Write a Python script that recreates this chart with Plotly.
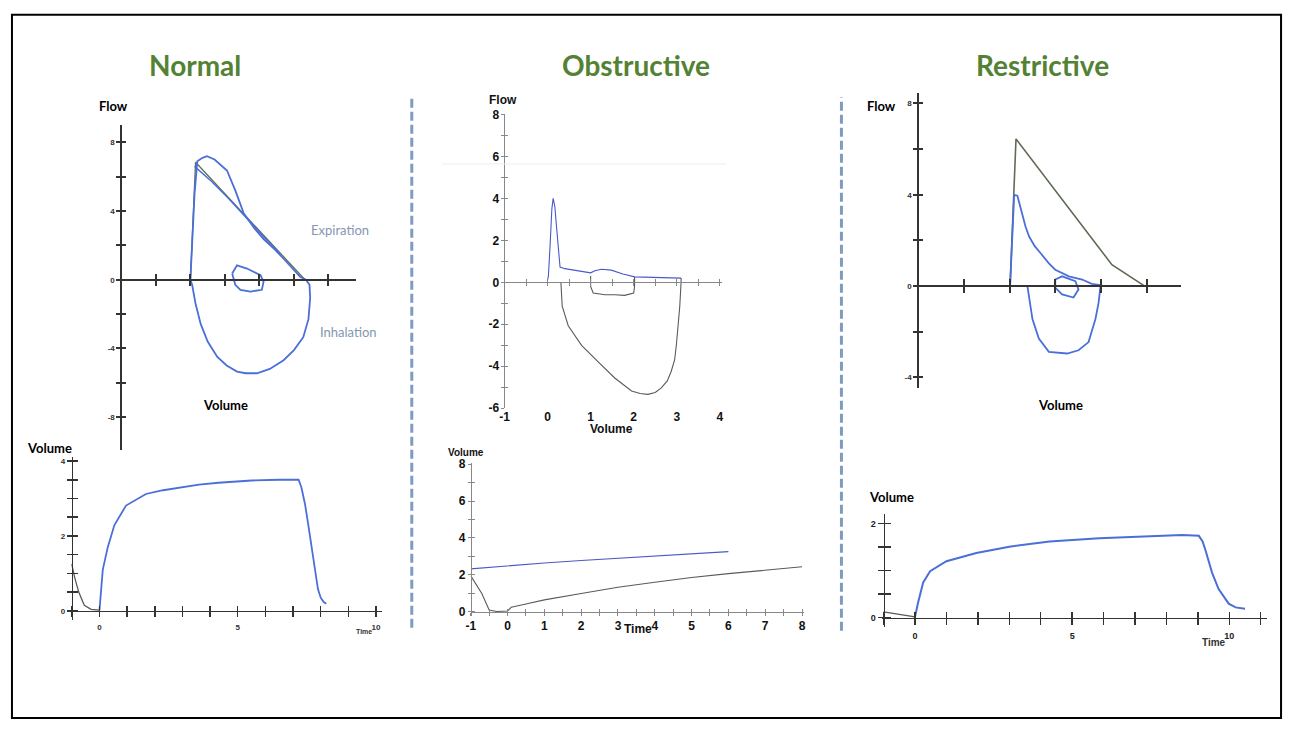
import plotly.graph_objects as go

W, H = 1291, 729

# ---------------- data ----------------
# Normal: flow-volume
normal_exp_vol = [2.0, 2.05, 2.12, 2.2, 2.35, 2.48, 2.7, 3.06, 3.3, 3.54, 3.85, 4.12, 4.45, 4.7, 5.0, 5.18, 5.35]
normal_exp_flow = [0.0, 2.0, 5.0, 6.9, 7.1, 7.2, 7.0, 6.36, 5.2, 3.89, 3.0, 2.36, 1.75, 1.22, 0.6, 0.17, 0.0]
normal_exp2_vol = [2.12, 2.6, 3.1, 3.55, 4.1, 4.6]
normal_exp2_flow = [6.6, 5.75, 4.75, 3.75, 2.55, 1.5]
normal_ref_vol = [2.0, 2.15, 5.32]
normal_ref_flow = [0.0, 6.84, 0.0]
normal_insp_vol = [5.35, 5.45, 5.47, 5.42, 5.27, 5.0, 4.7, 4.3, 3.93, 3.6, 3.35, 3.05, 2.78, 2.5, 2.3, 2.15, 2.05, 2.0]
normal_insp_flow = [0.0, -0.3, -1.07, -2.3, -3.35, -4.1, -4.69, -5.2, -5.45, -5.45, -5.35, -5.0, -4.5, -3.6, -2.59, -1.4, -0.3, 0.0]
normal_tidal_vol = [3.21, 3.35, 3.64, 4.03, 4.12, 4.07, 3.74, 3.45, 3.3, 3.21]
normal_tidal_flow = [0.36, 0.84, 0.65, 0.27, -0.11, -0.59, -0.69, -0.59, -0.3, 0.36]

# Normal: volume-time
normal_pre_t = [-1.0, -0.9, -0.75, -0.55, -0.3, 0.0]
normal_pre_v = [1.25, 0.9, 0.5, 0.15, 0.04, 0.02]
normal_vt_t = [0.0, 0.05, 0.12, 0.3, 0.54, 0.96, 1.4, 1.68, 2.3, 3.0, 3.6, 4.3, 5.5, 6.5, 7.2,
               7.3, 7.43, 7.55, 7.67, 7.8, 7.9, 8.0, 8.1, 8.2]
normal_vt_v = [0.02, 0.5, 1.1, 1.7, 2.29, 2.81, 3.0, 3.12, 3.22, 3.31, 3.37, 3.42, 3.48, 3.5, 3.5,
               3.3, 2.86, 2.3, 1.72, 1.1, 0.58, 0.35, 0.24, 0.19]

# Obstructive: flow-volume
obst_exp_vol = [0.0, 0.02, 0.06, 0.1, 0.13, 0.17, 0.21, 0.25, 0.29, 0.4, 0.55, 0.79, 1.0, 1.1, 1.25, 1.48,
                1.75, 2.02, 2.56, 3.1]
obst_exp_flow = [0.1, 0.3, 1.8, 3.5, 4.0, 3.6, 2.6, 1.5, 0.73, 0.65, 0.6, 0.5, 0.45, 0.55, 0.62, 0.58,
                 0.4, 0.26, 0.22, 0.2]
obst_tidal_vol = [1.0, 1.0, 1.06, 1.33, 1.56, 1.79, 2.0, 2.02, 2.02]
obst_tidal_flow = [0.3, -0.2, -0.51, -0.59, -0.59, -0.62, -0.51, -0.2, 0.26]
obst_insp_vol = [0.31, 0.34, 0.48, 0.79, 1.17, 1.56, 1.95, 2.15, 2.33, 2.5, 2.64, 2.78, 2.87, 2.95, 2.99,
                 3.04, 3.07, 3.1, 3.1]
obst_insp_flow = [0.0, -1.14, -2.07, -3.0, -3.78, -4.56, -5.18, -5.3, -5.34, -5.25, -5.03, -4.7, -4.25,
                  -3.7, -3.0, -2.0, -1.14, 0.0, 0.2]

# Obstructive: volume-time
obst_ref_t = [-1, 0, 1, 2, 3, 4, 5, 6]
obst_ref_v = [2.33, 2.5, 2.65, 2.78, 2.9, 3.03, 3.15, 3.26]
obst_vt_t = [-1.0, -0.85, -0.7, -0.5, -0.3, 0.0, 0.1, 0.5, 1.0, 2.0, 3.0, 4.0, 5.0, 6.0, 7.0, 8.0]
obst_vt_v = [1.95, 1.45, 1.0, 0.1, 0.02, 0.05, 0.25, 0.43, 0.65, 1.0, 1.33, 1.6, 1.86, 2.07, 2.27, 2.44]

# Restrictive: flow-volume
restr_ref_vol = [2.01, 2.14, 4.24, 4.96]
restr_ref_flow = [0.0, 6.45, 0.94, 0.0]
restr_exp_vol = [2.01, 2.05, 2.1, 2.17, 2.28, 2.35, 2.43, 2.55, 2.68, 2.86, 3.0, 3.3, 3.59, 3.8, 3.99]
restr_exp_flow = [0.0, 2.0, 4.0, 3.96, 3.17, 2.6, 2.16, 1.75, 1.44, 1.0, 0.72, 0.43, 0.29, 0.1, 0.04]
restr_tidal_vol = [3.0, 3.15, 3.44, 3.51, 3.4, 3.15, 3.0, 3.0]
restr_tidal_flow = [0.29, 0.43, 0.22, -0.14, -0.5, -0.36, -0.07, 0.29]
restr_insp_vol = [3.99, 3.95, 3.88, 3.73, 3.51, 3.26, 2.86, 2.64, 2.5, 2.43, 2.39]
restr_insp_flow = [0.0, -0.72, -1.44, -2.45, -2.81, -2.95, -2.88, -2.3, -1.44, -0.58, 0.0]

# Restrictive: volume-time
restr_pre_t = [-1.0, -0.5, 0.0]
restr_pre_v = [0.125, 0.07, 0.02]
restr_vt_t = [0.0, 0.1, 0.26, 0.48, 1.0, 1.95, 3.0, 4.28, 5.86, 7.44, 8.5, 9.03, 9.15, 9.24, 9.45, 9.66,
              9.98, 10.2, 10.5]
restr_vt_v = [0.02, 0.33, 0.75, 0.99, 1.2, 1.375, 1.51, 1.62, 1.69, 1.74, 1.76, 1.74, 1.62, 1.44, 0.96,
              0.61, 0.3, 0.22, 0.19]

titles = ["Normal", "Obstructive", "Restrictive"]

# ---------------- styling ----------------
BLUE = "#4b6fd8"
BLUE_THIN = "#4a58c8"
GRAY = "#5a5a5a"
GREENGRAY = "#5f6b55"
DARK = "#333333"
TITLE_GREEN = "#548235"
CAL = "Lato, Carlito, Calibri, sans-serif"
ARIAL = "Arial, Liberation Sans, sans-serif"

fig = go.Figure()
lay = dict(autosize=True, margin=dict(l=0, r=0, t=0, b=0), paper_bgcolor="white",
           plot_bgcolor="rgba(0,0,0,0)", showlegend=False)

counter = {"x": 0, "y": 0}


def axname(letter, n):
    return f"{letter}axis{'' if n == 1 else n}"


def axref(letter, n):
    return f"{letter}{'' if n == 1 else n}"


# panel geometry: (x range, y range, left px, right px, top px, bottom px)
panel_geo = [
    ([0, 6.8], [-9.94, 9.03], 117, 353, 120, 452),
    ([-1.1, 10.2], [-0.25, 4.1], 64.4, 378.6, 459.1, 625.2),
    ([-1, 4.05], [-6, 8], 502.2, 720.9, 109.5, 409.1),
    ([-1, 8.05], [-0.2, 8.05], 468.3, 803.2, 465.1, 620.5),
    ([0, 5.75], [-4.45, 8.45], 918.3, 1182.2, 87.9, 388.2),
    ([-1.05, 11.2], [-0.2, 2.2], 881.8, 1268.9, 517.1, 632.3),
]
panels = []
base_ax = dict(showgrid=False, zeroline=False, showline=False, ticks="", showticklabels=False,
               fixedrange=True)
for xr, yr, pl, pr, pt, pb in panel_geo:
    counter["x"] += 1
    counter["y"] += 1
    nx, ny = counter["x"], counter["y"]
    dx = [pl / W, pr / W]
    dy = [1 - pb / H, 1 - pt / H]
    lay[axname("x", nx)] = dict(base_ax, domain=dx, range=xr, anchor=axref("y", ny))
    lay[axname("y", ny)] = dict(base_ax, domain=dy, range=yr, anchor=axref("x", nx))
    panels.append(dict(nx=nx, ny=ny, xr=xr, yr=yr, dx=dx, dy=dy))

overlay_pairs = []


def line_axis(letter, p, at, tickvals, ticktext=None, color=DARK, width=1.5, ticklen=4,
              font=None, standoff=None):
    if letter == "x":
        rng, dom, other_rng = p["xr"], p["dy"], p["yr"]
        base = axref("x", p["nx"])
    else:
        rng, dom, other_rng = p["yr"], p["dx"], p["xr"]
        base = axref("y", p["ny"])
    pos = dom[0] + (at - other_rng[0]) / (other_rng[1] - other_rng[0]) * (dom[1] - dom[0])
    for ticks in ("outside", "inside"):
        counter[letter] += 1
        n = counter[letter]
        d = dict(overlaying=base, anchor="free", position=pos, range=rng, showline=True,
                 linecolor=color, linewidth=width, ticks=ticks, tickvals=tickvals, ticklen=ticklen,
                 tickcolor=color, tickwidth=width, showgrid=False, zeroline=False, fixedrange=True,
                 showticklabels=False)
        if ticks == "outside" and ticktext is not None:
            d.update(ticktext=ticktext, showticklabels=True, tickfont=font or {})
            if standoff is not None:
                d["ticklabelstandoff"] = standoff
        lay[axname(letter, n)] = d
        if letter == "x":
            overlay_pairs.append((axref("x", n), axref("y", p["ny"])))
        else:
            overlay_pairs.append((axref("x", p["nx"]), axref("y", n)))


def lbl(vals, shown):
    return [(("%g" % v) if v in shown else "") for v in vals]


tiny = dict(family=ARIAL, size=8, color="#333333", weight="bold")
small = dict(family=ARIAL, size=9, color="#222222", weight="bold")
arialb = dict(family=ARIAL, size=12, color="#111111", weight="bold")

# Panel 1
p = panels[0]
line_axis("x", p, 0, list(range(0, 7)), color=DARK, width=2, ticklen=5)
yv = [-8, -6, -4, -2, 0, 2, 4, 6, 8]
line_axis("y", p, 0, yv, lbl(yv, [-8, -4, 0, 4, 8]), color=DARK, width=2, ticklen=4, font=tiny)
# Panel 2
p = panels[1]
xv = list(range(-1, 11))
line_axis("x", p, 0, xv, lbl(xv, [0, 5, 10]), color=DARK, width=1.5, ticklen=5, font=tiny, standoff=3)
yv = [i * 0.5 for i in range(9)]
line_axis("y", p, -1, yv, lbl(yv, [0, 2, 4]), color=DARK, width=1.5, ticklen=5, font=tiny)
# Panel 3
p = panels[2]
xl = [-1, 0, 1, 2, 3, 4]
lay[axname("x", p["nx"])].update(showticklabels=True, tickvals=xl, ticktext=["%g" % v for v in xl],
                                 tickfont=arialb)
xv = [i * 0.5 - 1 for i in range(11)]
line_axis("x", p, 0, xv, color="#888888", width=1, ticklen=3)
yv = list(range(-6, 9))
line_axis("y", p, -1, yv, lbl(yv, [-6, -4, -2, 0, 2, 4, 6, 8]), color="#888888", width=1, ticklen=3,
          font=arialb)
# Panel 4
p = panels[3]
xv = [i * 0.5 - 1 for i in range(19)]
line_axis("x", p, 0, xv, lbl(xv, list(range(-1, 9))), color="#888888", width=1, ticklen=3, font=arialb)
yv = list(range(0, 9))
line_axis("y", p, -1, yv, lbl(yv, [0, 2, 4, 6, 8]), color="#888888", width=1, ticklen=3, font=arialb)
# Panel 5
p = panels[4]
line_axis("x", p, 0, list(range(0, 6)), color=DARK, width=2, ticklen=6)
yv = [-4, -2, 0, 2, 4, 6, 8]
line_axis("y", p, 0, yv, lbl(yv, [-4, 0, 4, 8]), color=DARK, width=2, ticklen=4, font=tiny)
# Panel 6
p = panels[5]
xv = list(range(-1, 12))
line_axis("x", p, 0, xv, lbl(xv, [0, 5, 10]), color=DARK, width=1.5, ticklen=6, font=small, standoff=3)
yv = [i * 0.5 for i in range(5)]
line_axis("y", p, -1, yv, lbl(yv, [0, 2]), color=DARK, width=1.5, ticklen=6, font=small)

# empty traces so that every overlay axis gets drawn
for xa, ya in overlay_pairs:
    fig.add_trace(go.Scatter(x=[], y=[], mode="lines", xaxis=xa, yaxis=ya, hoverinfo="skip",
                             showlegend=False))


def add_line(pi, x, y, color, width):
    p = panels[pi]
    fig.add_trace(go.Scatter(x=x, y=y, mode="lines", line=dict(color=color, width=width),
                             xaxis=axref("x", p["nx"]), yaxis=axref("y", p["ny"]),
                             hoverinfo="skip", showlegend=False))


add_line(0, normal_ref_vol, normal_ref_flow, GREENGRAY, 1.3)
add_line(0, normal_exp2_vol, normal_exp2_flow, BLUE, 1.5)
add_line(0, normal_exp_vol, normal_exp_flow, BLUE, 1.8)
add_line(0, normal_insp_vol, normal_insp_flow, BLUE, 1.8)
add_line(0, normal_tidal_vol, normal_tidal_flow, BLUE, 1.8)

add_line(1, normal_pre_t, normal_pre_v, GRAY, 1.3)
add_line(1, normal_vt_t, normal_vt_v, BLUE, 1.8)

add_line(2, obst_insp_vol, obst_insp_flow, GRAY, 1.1)
add_line(2, obst_tidal_vol, obst_tidal_flow, GRAY, 1.1)
add_line(2, obst_exp_vol, obst_exp_flow, BLUE_THIN, 1.1)

add_line(3, obst_ref_t, obst_ref_v, BLUE_THIN, 1.1)
add_line(3, obst_vt_t, obst_vt_v, GRAY, 1.1)

add_line(4, restr_ref_vol, restr_ref_flow, GREENGRAY, 1.6)
add_line(4, restr_exp_vol, restr_exp_flow, BLUE, 1.8)
add_line(4, restr_tidal_vol, restr_tidal_flow, BLUE, 1.8)
add_line(4, restr_insp_vol, restr_insp_flow, BLUE, 1.8)

add_line(5, restr_pre_t, restr_pre_v, GRAY, 1.3)
add_line(5, restr_vt_t, restr_vt_v, BLUE, 2.0)


def ann(text, px, py, font, xanchor="center", yanchor="middle"):
    return dict(text=text, x=px / W, y=1 - py / H, xref="paper", yref="paper", showarrow=False,
                xanchor=xanchor, yanchor=yanchor, font=font)


title_font = dict(family=CAL, size=28, color=TITLE_GREEN, weight="bold")
calb = dict(family=CAL, size=13, color="#000000", weight="bold")
annots = [
    ann(titles[0], 191, 59, title_font),
    ann(titles[1], 634, 59, title_font),
    ann(titles[2], 1043, 59, title_font),
    ann("<b>Flow</b>", 109, 101, calb),
    ann("<b>Volume</b>", 222, 406, calb),
    ann("Expiration", 337, 227, dict(family=CAL, size=13, color="#8497b0")),
    ann("Inhalation", 345, 331, dict(family=CAL, size=13, color="#8497b0")),
    ann("<b>Volume</b>", 45, 450, calb),
    ann("<b>Time</b>", 361, 637, dict(family=ARIAL, size=7, color="#333333")),
    ann("<b>Flow</b>", 501, 95, dict(family=ARIAL, size=12, color="#111111")),
    ann("<b>Volume</b>", 610, 430, dict(family=ARIAL, size=12, color="#111111")),
    ann("<b>Volume</b>", 464, 454, dict(family=ARIAL, size=10, color="#111111")),
    ann("<b>Time</b>", 636, 634, dict(family=ARIAL, size=12, color="#111111")),
    ann("<b>Flow</b>", 881, 101, calb),
    ann("<b>Volume</b>", 1061, 406, calb),
    ann("<b>Volume</b>", 891, 500, calb),
    ann("<b>Time</b>", 1216, 648, dict(family=ARIAL, size=10, color="#333333")),
]
lay["annotations"] = annots

lay["shapes"] = [
    dict(type="rect", xref="paper", yref="paper", x0=7 / W, x1=1283 / W, y0=1 - 725 / H, y1=1 - 8 / H,
         line=dict(color="black", width=2), fillcolor="rgba(0,0,0,0)", layer="above"),
    dict(type="line", xref="paper", yref="paper", x0=409 / W, x1=409 / W, y0=1 - 633 / H, y1=1 - 92 / H,
         line=dict(color="#7f9cc0", width=3, dash="9px,4px")),
    dict(type="line", xref="paper", yref="paper", x0=841 / W, x1=841 / W, y0=1 - 636 / H, y1=1 - 92 / H,
         line=dict(color="#7f9cc0", width=3, dash="9px,4px")),
    dict(type="line", xref="paper", yref="paper", x0=440 / W, x1=725 / W, y0=1 - 160 / H, y1=1 - 160 / H,
         line=dict(color="#eeeeee", width=1)),
]

fig.update_layout(**lay)
# the plot div is pinned to the window's top-left corner at exactly 1291x729 px,
# so default page margins cannot shift it; plotly autosizes to that div
fig.write_html("out.html", config={"displayModeBar": False, "staticPlot": True},
               default_width="%dpx" % W,
               default_height="%dpx; position:fixed; top:0; left:0; margin:0" % H)
